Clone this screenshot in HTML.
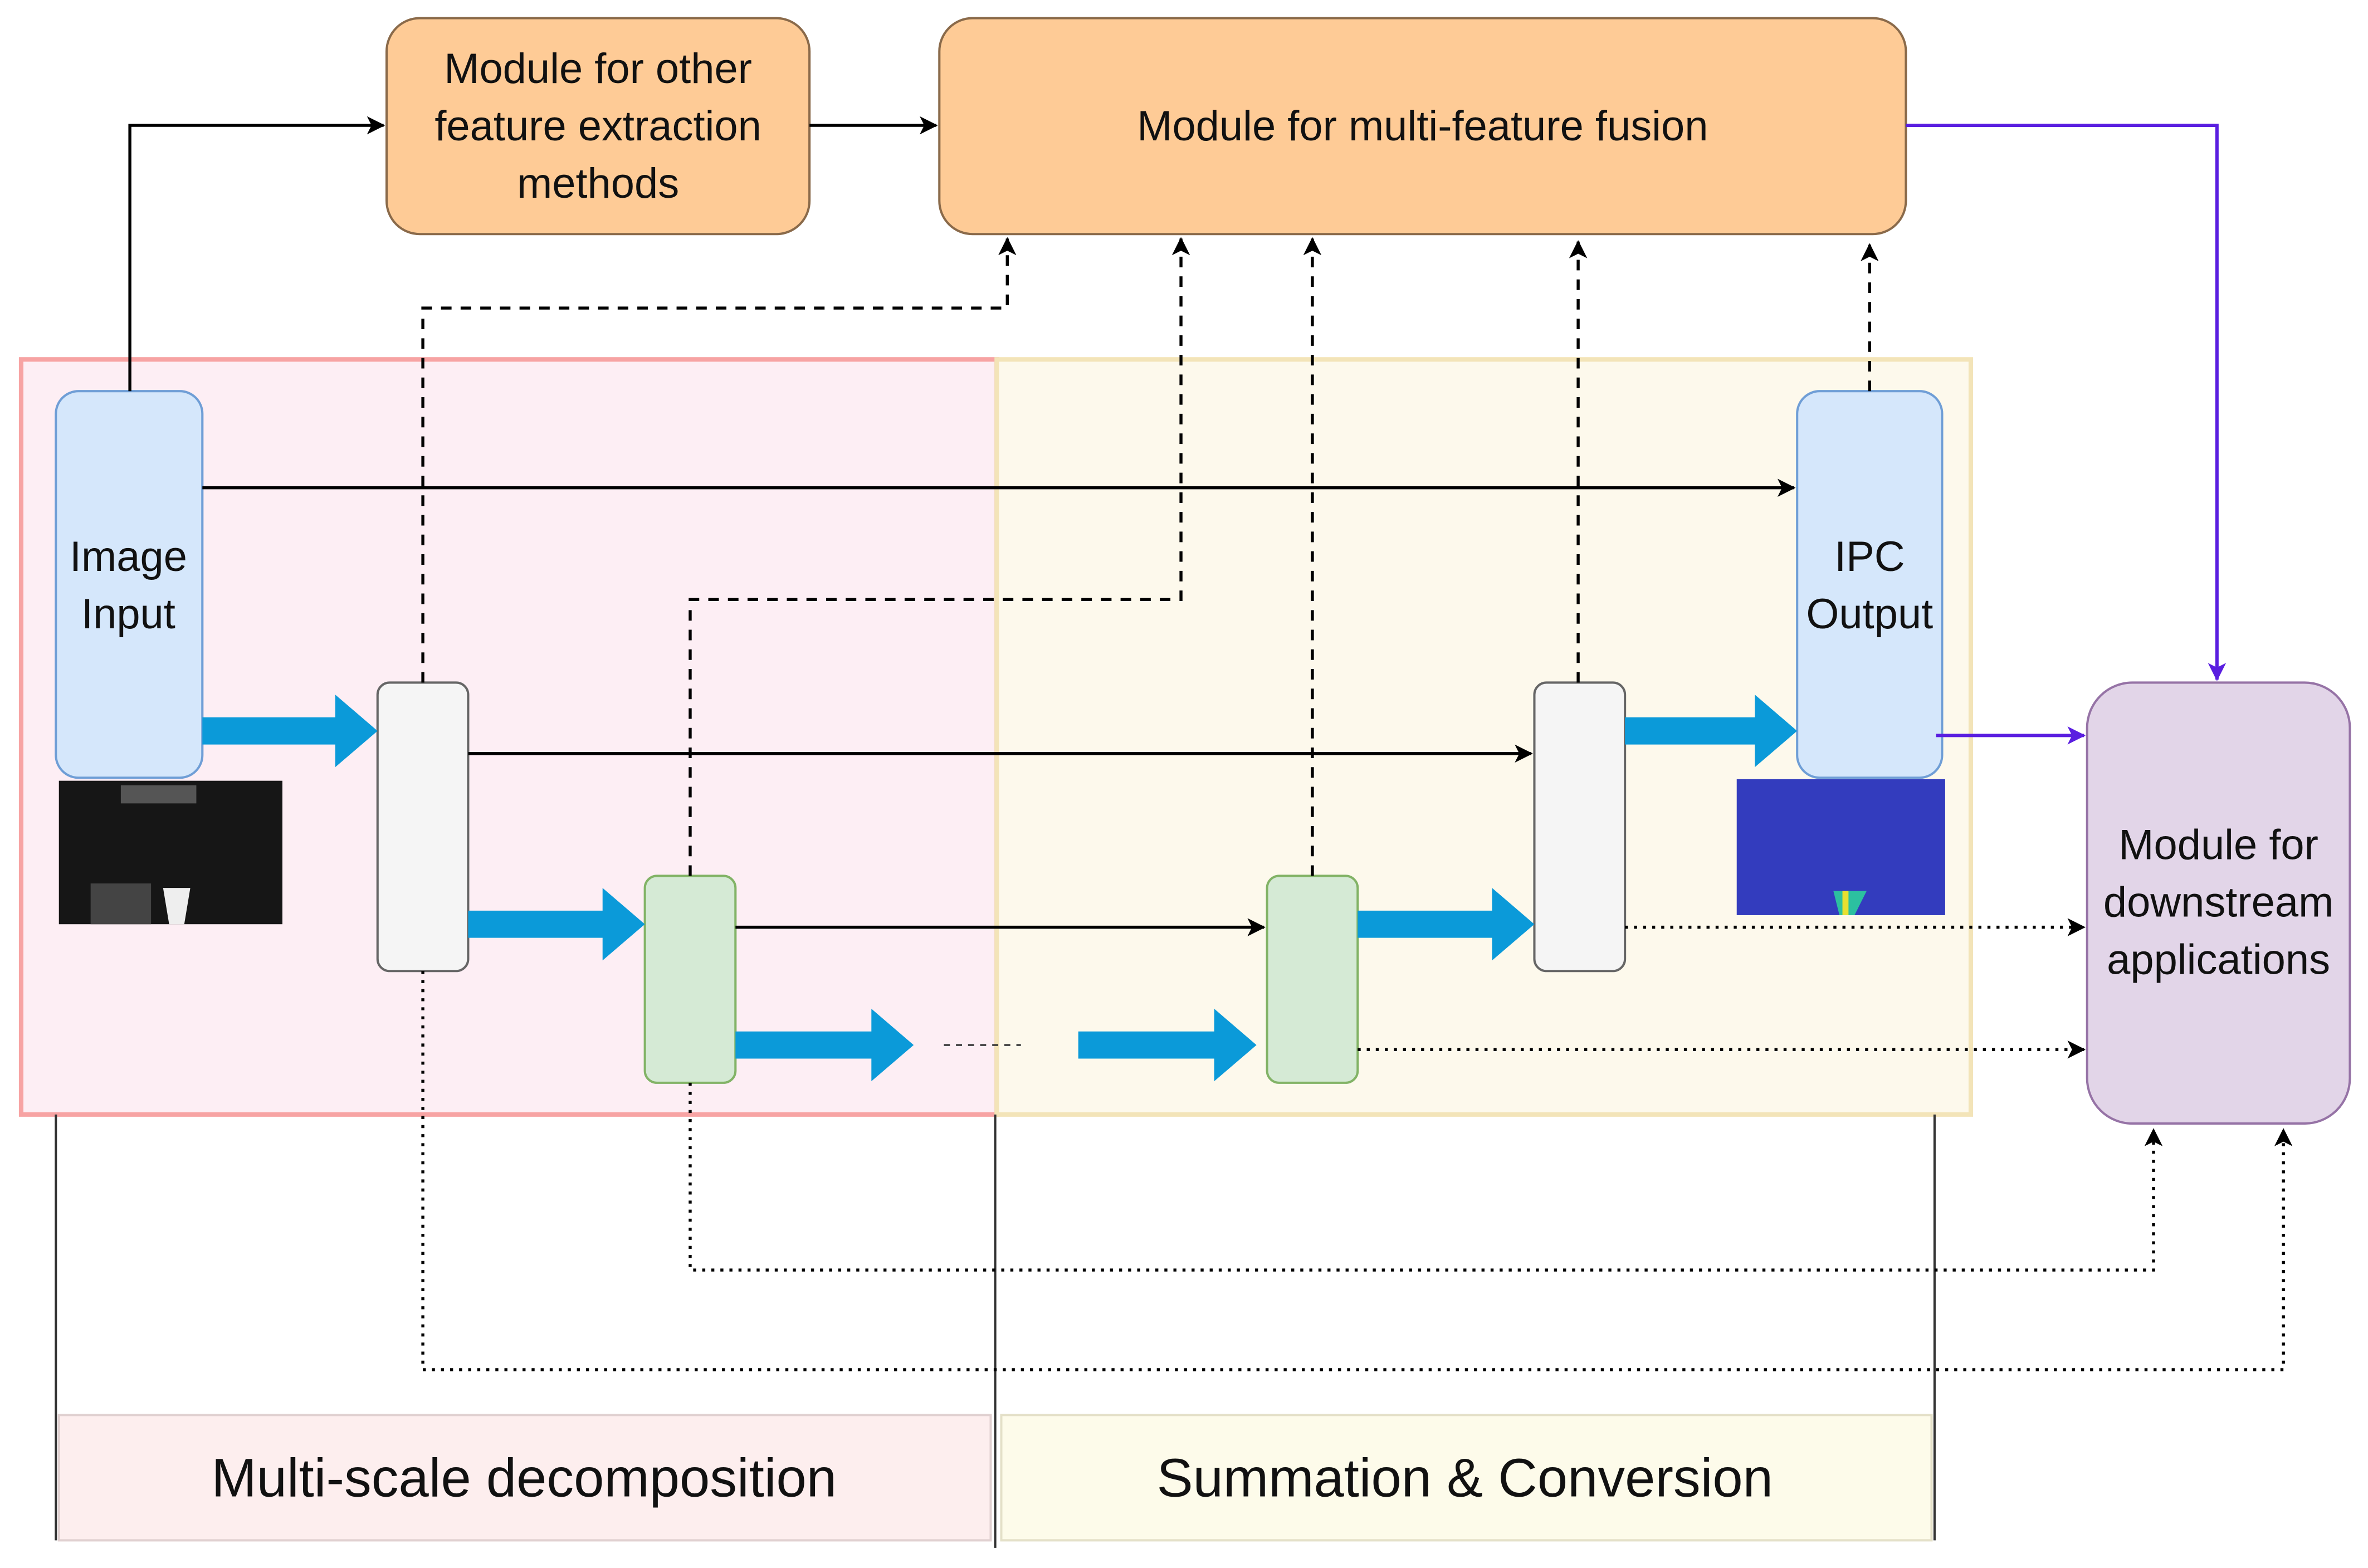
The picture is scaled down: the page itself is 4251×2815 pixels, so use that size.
<!DOCTYPE html>
<html><head><meta charset="utf-8"><style>html,body{margin:0;padding:0;background:#fff}svg{display:block}</style></head>
<body>
<svg width="4251" height="2815" viewBox="0 0 1568 1038.3" xmlns="http://www.w3.org/2000/svg" font-family="Liberation Sans, sans-serif">
<defs>
<marker id="ab" markerWidth="10" markerHeight="10" refX="9" refY="5" orient="auto" markerUnits="userSpaceOnUse"><path d="M0,0 L10,5 L0,10 L3,5 z" fill="#000"/></marker>
<marker id="ap" markerWidth="12" markerHeight="12" refX="11" refY="6" orient="auto" markerUnits="userSpaceOnUse"><path d="M0,0 L12,6 L0,12 L3,6 z" fill="#5a1ee0"/></marker>
<marker id="ab2" markerWidth="12" markerHeight="12" refX="11" refY="6" orient="auto" markerUnits="userSpaceOnUse"><path d="M0,0 L12,6 L0,12 L3,6 z" fill="#000"/></marker>
</defs>
<rect width="1568" height="1038.3" fill="#fff"/>
<!-- regions -->
<rect x="14" y="238" width="646" height="500" fill="#fdeef4" stroke="#f7a3a3" stroke-width="3"/>
<rect x="660" y="238" width="645" height="500" fill="#fdf9ec" stroke="#f3e4b8" stroke-width="3"/>
<!-- bracket lines -->
<line x1="37" y1="738" x2="37" y2="1020" stroke="#333" stroke-width="1.5"/>
<line x1="659" y1="738" x2="659" y2="1025" stroke="#333" stroke-width="1.5"/>
<line x1="1281" y1="738" x2="1281" y2="1020" stroke="#333" stroke-width="1.5"/>
<rect x="39" y="937" width="617" height="83" fill="#fdeeee" stroke="#e0d0d0" stroke-width="1.5"/>
<rect x="663" y="937" width="616" height="83" fill="#fdfbea" stroke="#e4e0c8" stroke-width="1.5"/>
<text x="347" y="991" font-size="36" text-anchor="middle" fill="#111">Multi-scale decomposition</text>
<text x="970" y="991" font-size="36" text-anchor="middle" fill="#111">Summation &amp; Conversion</text>
<!-- top modules -->
<rect x="256" y="12" width="280" height="143" rx="22" fill="#fecb96" stroke="#8a6a4a" stroke-width="1.5"/>
<text font-size="28" text-anchor="middle" fill="#111"><tspan x="396" y="55">Module for other</tspan><tspan x="396" y="93">feature extraction</tspan><tspan x="396" y="131">methods</tspan></text>
<rect x="622" y="12" width="640" height="143" rx="22" fill="#fecb96" stroke="#8a6a4a" stroke-width="1.5"/>
<text x="942" y="93" font-size="28" text-anchor="middle" fill="#111">Module for multi-feature fusion</text>
<!-- downstream -->
<rect x="1382" y="452" width="174" height="292" rx="30" fill="#e2d5e8" stroke="#9673a6" stroke-width="1.5"/>
<text font-size="28" text-anchor="middle" fill="#111"><tspan x="1469" y="569">Module for</tspan><tspan x="1469" y="607">downstream</tspan><tspan x="1469" y="645">applications</tspan></text>
<!-- image input -->
<rect x="37" y="259" width="97" height="256" rx="15" fill="#d5e7fb" stroke="#6f9ed6" stroke-width="1.5"/>
<text font-size="28" text-anchor="middle" fill="#111"><tspan x="85" y="378">Image</tspan><tspan x="85" y="416">Input</tspan></text>
<rect x="39" y="517" width="148" height="95" fill="#161616"/>
<rect x="80" y="520" width="50" height="12" fill="#555"/>
<rect x="60" y="585" width="40" height="27" fill="#444"/>
<path d="M108,588 L126,588 L122,612 L112,612 z" fill="#eee"/>
<!-- IPC -->
<rect x="1190" y="259" width="96" height="256" rx="15" fill="#d5e7fb" stroke="#6f9ed6" stroke-width="1.5"/>
<text font-size="28" text-anchor="middle" fill="#111"><tspan x="1238" y="378">IPC</tspan><tspan x="1238" y="416">Output</tspan></text>
<rect x="1150" y="516" width="138" height="90" fill="#3a2bb8"/>
<rect x="1150" y="516" width="138" height="90" fill="#2070d0" opacity="0.25"/>
<path d="M1214,590 L1236,590 L1228,606 L1218,606 z" fill="#2cc0a0"/>
<rect x="1220" y="590" width="4" height="16" fill="#e8e030"/>
<!-- small boxes -->
<rect x="250" y="452" width="60" height="191" rx="8" fill="#f5f5f5" stroke="#666" stroke-width="1.5"/>
<rect x="1016" y="452" width="60" height="191" rx="8" fill="#f5f5f5" stroke="#666" stroke-width="1.5"/>
<rect x="427" y="580" width="60" height="137" rx="8" fill="#d5ead5" stroke="#82b366" stroke-width="1.5"/>
<rect x="839" y="580" width="60" height="137" rx="8" fill="#d5ead5" stroke="#82b366" stroke-width="1.5"/>
<!-- blue thick arrows -->
<g fill="#0b9ad9">
<path d="M134,475 L222,475 L222,460 L250,484 L222,508 L222,493 L134,493 z"/>
<path d="M310,603 L399,603 L399,588 L427,612 L399,636 L399,621 L310,621 z"/>
<path d="M487,683 L577,683 L577,668 L605,692 L577,716 L577,701 L487,701 z"/>
<path d="M714,683 L804,683 L804,668 L832,692 L804,716 L804,701 L714,701 z"/>
<path d="M899,603 L988,603 L988,588 L1016,612 L988,636 L988,621 L899,621 z"/>
<path d="M1076,475 L1162,475 L1162,460 L1190,484 L1162,508 L1162,493 L1076,493 z"/>
</g>
<line x1="625" y1="692" x2="676" y2="692" stroke="#333" stroke-width="1.2" stroke-dasharray="4,4"/>
<!-- solid black -->
<g stroke="#000" stroke-width="2" fill="none">
<path d="M86,259 L86,83 L254,83" marker-end="url(#ab2)"/>
<path d="M536,83 L620,83" marker-end="url(#ab2)"/>
<path d="M134,323 L1188,323" marker-end="url(#ab2)"/>
<path d="M310,499 L1014,499" marker-end="url(#ab2)"/>
<path d="M487,614 L837,614" marker-end="url(#ab2)"/>
</g>
<!-- purple -->
<g stroke="#5a1ee0" stroke-width="2.2" fill="none">
<path d="M1262,83 L1468,83 L1468,450" marker-end="url(#ap)"/>
<path d="M1282,487 L1380,487" marker-end="url(#ap)"/>
</g>
<!-- dashed -->
<g stroke="#000" stroke-width="2" fill="none" stroke-dasharray="7,6">
<path d="M280,452 L280,204 L667,204 L667,158" marker-end="url(#ab2)"/>
<path d="M457,580 L457,397 L782,397 L782,158" marker-end="url(#ab2)"/>
<path d="M869,580 L869,158" marker-end="url(#ab2)"/>
<path d="M1045,452 L1045,160" marker-end="url(#ab2)"/>
<path d="M1238,259 L1238,162" marker-end="url(#ab2)"/>
</g>
<!-- dotted -->
<g stroke="#000" stroke-width="2" fill="none" stroke-dasharray="2,4">
<path d="M1076,614 L1380,614" marker-end="url(#ab2)"/>
<path d="M899,695 L1380,695" marker-end="url(#ab2)"/>
<path d="M457,717 L457,841 L1426,841 L1426,748" marker-end="url(#ab2)"/>
<path d="M280,643 L280,907 L1512,907 L1512,748" marker-end="url(#ab2)"/>
</g>
</svg>
</body></html>
